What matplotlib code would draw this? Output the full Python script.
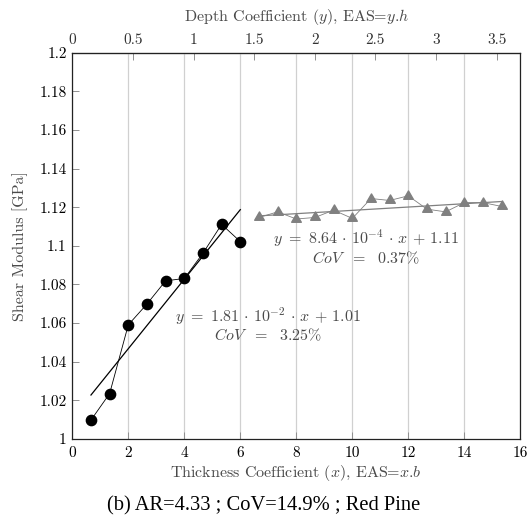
import numpy as np
import matplotlib.pyplot as plt
from matplotlib.path import Path

plt.rcParams['font.family'] = 'cmr10'
plt.rcParams['mathtext.fontset'] = 'cm'
plt.rcParams['axes.formatter.use_mathtext'] = True

AR = 4.33

# thickness coefficient series (black circles)
x_thick = [0.667, 1.333, 2.0, 2.667, 3.333, 4.0, 4.667, 5.333, 6.0]
g_thick = [1.0098, 1.0235, 1.0591, 1.0699, 1.0819, 1.0831, 1.0962, 1.1111, 1.1022]

# depth coefficient series (gray triangles)
x_depth = [6.667, 7.333, 8.0, 8.667, 9.333, 10.0, 10.667, 11.333, 12.0,
           12.667, 13.333, 14.0, 14.667, 15.333]
g_depth = [1.1147, 1.1176, 1.1139, 1.1147, 1.1185, 1.1142, 1.1245, 1.1235,
           1.1259, 1.1190, 1.1176, 1.1224, 1.1224, 1.1204]

x_ticks = [0, 2, 4, 6, 8, 10, 12, 14, 16]
y_ticks = [1.0, 1.02, 1.04, 1.06, 1.08, 1.1, 1.12, 1.14, 1.16, 1.18, 1.2]
y_ticklabels = ['1', '1.02', '1.04', '1.06', '1.08', '1.1', '1.12', '1.14', '1.16', '1.18', '1.2']
top_ticks = [0, 0.5, 1, 1.5, 2, 2.5, 3, 3.5]
top_ticklabels = ['0', '0.5', '1', '1.5', '2', '2.5', '3', '3.5']

gray = '#808080'
txt_gray = '#4a4a4a'

fig = plt.figure(figsize=(5.28, 5.18), dpi=100)
ax = fig.add_axes([72.3 / 528, 1 - 439 / 518, 448 / 528, 386.3 / 518])

# equilateral triangle marker like pgfplots
tri = Path([(0, 1), (-0.866, -0.5), (0.866, -0.5), (0, 1)],
           [Path.MOVETO, Path.LINETO, Path.LINETO, Path.CLOSEPOLY])

ax.plot(x_thick, g_thick, color='black', lw=0.6, marker='o', ms=7.4, zorder=3)
ax.plot(x_depth, g_depth, color=gray, lw=0.6, marker=tri, ms=8, mec=gray, mfc=gray, zorder=3)

# linear fits
k1, b1 = np.polyfit(x_thick, g_thick, 1)
xf1 = np.array([x_thick[0], x_thick[-1]])
ax.plot(xf1, k1 * xf1 + b1, color='black', lw=0.9, zorder=4)
k2, b2 = np.polyfit(x_depth, g_depth, 1)
xf2 = np.array([x_depth[0], x_depth[-1]])
ax.plot(xf2, k2 * xf2 + b2, color=gray, lw=0.9, zorder=4)

fs_ann = 11.5
ax.text(6.98, 1.0633, r'$y\ =\ 1.81\,\cdot\,10^{-2}\,\cdot\,x\,+\,1.01$', color=txt_gray,
        fontsize=fs_ann, ha='center', va='center')
ax.text(6.98, 1.0538, r'$CoV\ \ =\ \ 3.25\%$', color=txt_gray,
        fontsize=fs_ann, ha='center', va='center')
ax.text(10.49, 1.1039, r'$y\ =\ 8.64\,\cdot\,10^{-4}\,\cdot\,x\,+\,1.11$', color=txt_gray,
        fontsize=fs_ann, ha='center', va='center')
ax.text(10.49, 1.0939, r'$CoV\ \ =\ \ 0.37\%$', color=txt_gray,
        fontsize=fs_ann, ha='center', va='center')

ax.set_xlim(0, 16)
ax.set_ylim(1.0, 1.2)
ax.set_xticks(x_ticks)
ax.set_xticklabels([str(t) for t in x_ticks])
ax.set_yticks(y_ticks)
ax.set_yticklabels(y_ticklabels)
ax.grid(axis='x', color='#d0d0d0', lw=0.9)
ax.set_axisbelow(True)
ax.tick_params(direction='in', length=5, width=0.7, color='#909090', labelsize=11,
               labelcolor='black')
ax.tick_params(axis='x', pad=5)
ax.tick_params(axis='y', pad=4)
for s in ax.spines.values():
    s.set_linewidth(0.9)
    s.set_color('#222222')

top = ax.secondary_xaxis('top', functions=(lambda x: x / AR, lambda y: y * AR))
top.set_xticks(top_ticks)
top.set_xticklabels(top_ticklabels)
top.tick_params(direction='in', length=5, width=0.7, color='#909090', labelsize=11,
                labelcolor='#333333', pad=4)

fig.text(0.5 * (72.3 + 520.3) / 528, 1 - 473 / 518,
         r'Thickness Coefficient ($x$), EAS=$x$.$b$', color=txt_gray,
         fontsize=11.5, ha='center', va='center')
fig.text(0.5 * (72.3 + 520.3) / 528, 1 - 16.7 / 518,
         r'Depth Coefficient ($y$), EAS=$y$.$h$', color=txt_gray,
         fontsize=11.5, ha='center', va='center')
fig.text(20 / 528, 1 - 245.8 / 518, 'Shear Modulus [GPa]', color=txt_gray,
         fontsize=11.5, ha='center', va='center', rotation=90)
fig.text(0.5, 1 - 506 / 518, '(b) AR=4.33 ; CoV=14.9% ; Red Pine',
         family='Liberation Serif', fontsize=14.8, ha='center', va='center')

fig.savefig('out.png', dpi=100)
